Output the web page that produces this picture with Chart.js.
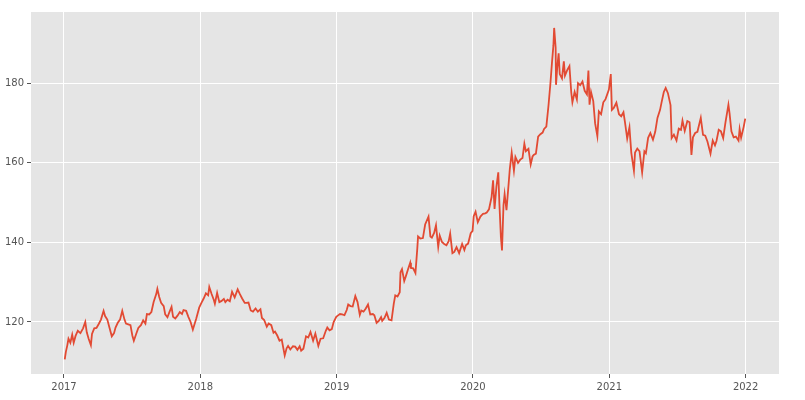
<!DOCTYPE html>
<html>
<head>
<meta charset="utf-8">
<script src="https://cdn.jsdelivr.net/npm/chart.js@4"></script>
<style>
  body { margin: 0; background: #fff; }
  #wrap { width: 805px; height: 400px; }
</style>
</head>
<body>
<div id="wrap"><canvas id="myChart" width="805" height="400"></canvas></div>
<script>
// trading dates (roughly weekly) and closing prices
var dates = [
  '2017-01-03','2017-01-06','2017-01-10','2017-01-13','2017-01-18','2017-01-23','2017-01-27','2017-02-01','2017-02-07','2017-02-14','2017-02-21','2017-02-27',
  '2017-03-03','2017-03-08','2017-03-14','2017-03-17','2017-03-23','2017-03-29','2017-04-04','2017-04-10','2017-04-17','2017-04-21','2017-04-27','2017-05-03',
  '2017-05-09','2017-05-15','2017-05-19','2017-05-25','2017-05-31','2017-06-06','2017-06-12','2017-06-16','2017-06-22','2017-06-28','2017-07-03','2017-07-07',
  '2017-07-13','2017-07-19','2017-07-26','2017-08-01','2017-08-07','2017-08-11','2017-08-17','2017-08-23','2017-08-29','2017-09-05','2017-09-08','2017-09-13',
  '2017-09-18','2017-09-25','2017-09-29','2017-10-05','2017-10-10','2017-10-16','2017-10-20','2017-10-26','2017-11-01','2017-11-07','2017-11-13','2017-11-17',
  '2017-11-24','2017-11-30','2017-12-06','2017-12-12','2017-12-15','2017-12-21','2017-12-29',
  '2018-01-04','2018-01-10','2018-01-16','2018-01-22','2018-01-25','2018-01-31','2018-02-06','2018-02-09','2018-02-15','2018-02-21','2018-02-27','2018-03-05',
  '2018-03-09','2018-03-15','2018-03-21','2018-03-27','2018-04-03','2018-04-11','2018-04-17','2018-04-23','2018-04-30','2018-05-04','2018-05-10','2018-05-16',
  '2018-05-22','2018-05-29','2018-06-04','2018-06-11','2018-06-15','2018-06-21','2018-06-28','2018-07-03','2018-07-10','2018-07-16','2018-07-20','2018-07-26',
  '2018-08-01','2018-08-07','2018-08-15','2018-08-20','2018-08-24','2018-08-30','2018-09-06','2018-09-12','2018-09-18','2018-09-24','2018-09-28','2018-10-04',
  '2018-10-11','2018-10-17','2018-10-23','2018-10-30','2018-11-05','2018-11-13','2018-11-19','2018-11-26','2018-12-03','2018-12-07','2018-12-13','2018-12-19',
  '2018-12-24','2018-12-31',
  '2019-01-04','2019-01-10','2019-01-16','2019-01-22','2019-01-28','2019-02-01','2019-02-07','2019-02-13','2019-02-20','2019-02-26','2019-03-04','2019-03-08',
  '2019-03-14','2019-03-20','2019-03-26','2019-04-01','2019-04-08','2019-04-12','2019-04-18','2019-04-24','2019-04-30','2019-05-03','2019-05-09','2019-05-15',
  '2019-05-21','2019-05-28','2019-06-03','2019-06-07','2019-06-13','2019-06-19','2019-06-21','2019-06-25','2019-07-01','2019-07-05','2019-07-11','2019-07-17',
  '2019-07-19','2019-07-25','2019-07-31','2019-08-05','2019-08-07','2019-08-13','2019-08-20','2019-08-26','2019-09-04','2019-09-09','2019-09-13','2019-09-19',
  '2019-09-24','2019-09-30','2019-10-04','2019-10-10','2019-10-16','2019-10-22','2019-10-28','2019-11-01','2019-11-07','2019-11-12','2019-11-18','2019-11-25',
  '2019-12-03','2019-12-09','2019-12-13','2019-12-19','2019-12-26','2019-12-31',
  '2020-01-03','2020-01-08','2020-01-14','2020-01-21','2020-01-28','2020-02-03','2020-02-07','2020-02-13','2020-02-20','2020-02-24','2020-02-28','2020-03-04',
  '2020-03-09','2020-03-12','2020-03-16','2020-03-19','2020-03-23','2020-03-26','2020-03-31','2020-04-06','2020-04-09','2020-04-14','2020-04-20','2020-04-24',
  '2020-05-01','2020-05-07','2020-05-13','2020-05-18','2020-05-22','2020-05-29','2020-06-04','2020-06-09','2020-06-12','2020-06-18','2020-06-24','2020-06-30',
  '2020-07-06','2020-07-10','2020-07-16','2020-07-22','2020-07-27','2020-07-31','2020-08-04','2020-08-06','2020-08-10','2020-08-11','2020-08-14','2020-08-18',
  '2020-08-21','2020-08-27','2020-09-01','2020-09-04','2020-09-10','2020-09-16','2020-09-21','2020-09-24','2020-09-30','2020-10-06','2020-10-09','2020-10-15',
  '2020-10-21','2020-10-27','2020-11-02','2020-11-06','2020-11-09','2020-11-13','2020-11-19','2020-11-24','2020-11-30','2020-12-04','2020-12-10','2020-12-16',
  '2020-12-22','2020-12-31',
  '2021-01-05','2021-01-08','2021-01-13','2021-01-20','2021-01-27','2021-02-02','2021-02-08','2021-02-12','2021-02-18','2021-02-24','2021-03-01','2021-03-08',
  '2021-03-11','2021-03-17','2021-03-23','2021-03-30','2021-04-05','2021-04-09','2021-04-15','2021-04-21','2021-04-28','2021-05-04','2021-05-10','2021-05-17',
  '2021-05-21','2021-05-27','2021-06-01','2021-06-07','2021-06-14','2021-06-17','2021-06-23','2021-06-30','2021-07-06','2021-07-12','2021-07-16','2021-07-22',
  '2021-07-29','2021-08-04','2021-08-09','2021-08-13','2021-08-19','2021-08-25','2021-09-03','2021-09-09','2021-09-15','2021-09-21','2021-09-29','2021-10-05',
  '2021-10-11','2021-10-15','2021-10-21','2021-10-27','2021-11-02','2021-11-08','2021-11-16','2021-11-19','2021-11-24','2021-11-30','2021-12-06','2021-12-13',
  '2021-12-16','2021-12-20','2021-12-27','2021-12-31'
];
var prices = [
  110.6,112.5,114.2,115.8,114.8,116.8,114.8,116.5,117.8,117.2,118.4,120.0,
  117.4,115.8,114.2,117.0,118.4,118.5,119.5,120.6,122.8,121.5,120.6,118.5,
  116.4,117.2,118.6,119.8,120.6,122.8,120.6,119.6,119.4,119.2,116.6,115.3,
  116.9,118.5,119.2,120.4,119.6,122.0,121.9,122.5,125.0,127.0,128.3,126.3,
  124.8,124.0,121.9,121.2,122.4,123.8,121.3,120.9,121.6,122.5,122.0,123.0,
  122.8,121.3,120.0,118.1,119.0,120.8,123.6,
  124.8,125.9,127.2,126.7,128.8,127.1,125.6,124.6,127.3,125.0,125.3,125.8,
  125.0,125.6,125.2,127.6,126.2,128.2,127.0,125.9,124.8,124.8,124.9,122.9,
  122.6,123.4,122.6,123.2,121.0,120.5,118.8,119.6,119.2,117.3,117.6,116.6,
  115.3,115.6,111.6,113.4,114.0,113.1,113.9,113.8,113.0,113.9,112.8,113.3,
  116.4,116.1,117.5,115.3,117.1,114.0,115.8,115.9,117.8,118.6,117.9,118.2,
  120.0,121.3,
  121.6,122.0,121.9,121.7,123.0,124.4,124.0,123.9,126.5,125.0,121.8,122.9,
  122.6,123.4,124.4,121.9,122.0,121.7,119.8,120.3,121.2,120.3,121.0,122.3,
  120.6,120.4,124.6,126.7,126.4,127.5,132.5,133.3,130.3,131.4,133.2,134.9,
  133.6,133.5,132.3,138.5,141.5,141.0,141.1,144.5,146.5,141.5,141.2,142.4,
  144.3,138.9,141.7,140.1,139.6,139.3,140.3,142.2,137.3,137.6,138.8,137.3,
  139.6,138.1,139.3,139.7,142.3,142.9,
  146.6,147.7,145.1,146.5,147.2,147.3,147.5,148.3,151.4,155.6,148.4,154.0,
  157.6,149.7,141.4,138.0,149.4,152.1,148.1,155.0,158.5,162.5,158.0,161.5,
  160.0,160.8,161.2,164.8,162.9,163.5,159.6,161.6,162.0,162.3,166.6,167.2,
  167.6,168.5,169.1,174.6,180.0,185.0,189.5,193.9,189.0,179.6,183.6,187.5,
  182.3,181.2,185.5,181.9,183.3,184.3,177.6,175.2,177.8,175.9,180.0,179.5,
  180.4,178.1,177.2,183.2,174.6,177.8,175.5,169.9,166.7,172.9,172.2,175.2,
  176.0,178.4,
  182.3,173.3,173.8,175.1,172.2,171.7,172.7,170.2,166.1,168.9,162.5,158.0,
  162.6,163.6,162.9,157.6,162.9,162.4,166.3,167.5,165.8,167.8,171.3,173.3,
  175.2,177.8,178.8,177.5,174.5,166.2,167.1,165.6,168.6,168.3,170.6,168.0,
  170.5,170.2,162.0,166.4,167.5,167.8,171.3,167.0,166.8,165.3,162.3,165.6,
  164.4,165.5,168.3,167.9,166.2,170.1,174.6,172.5,167.9,166.4,166.6,165.6,
  168.5,166.3,169.1,171.1
];
var yearTicks = [2017, 2018, 2019, 2020, 2021, 2022];
var priceTicks = [120, 140, 160, 180];

function toYear(s) {
  var d = Date.parse(s + 'T00:00:00Z');
  var y = parseInt(s.slice(0, 4), 10);
  var a = Date.UTC(y, 0, 1), b = Date.UTC(y + 1, 0, 1);
  return y + (d - a) / (b - a);
}

var points = [];
for (var i = 0; i < dates.length; i++) {
  points.push({ x: toYear(dates[i]), y: prices[i] });
}

var plotBg = {
  id: 'plotBg',
  beforeDraw: function (chart) {
    var a = chart.chartArea, ctx = chart.ctx;
    ctx.save();
    ctx.fillStyle = '#e5e5e5';
    ctx.fillRect(a.left, a.top, a.right - a.left, a.bottom - a.top);
    ctx.restore();
  }
};

var ctx = document.getElementById('myChart').getContext('2d');
var myChart = new Chart(ctx, {
  type: 'line',
  data: {
    datasets: [{
      data: points,
      borderColor: '#e24a33',
      borderWidth: 1.8,
      pointRadius: 0,
      tension: 0,
      fill: false
    }]
  },
  options: {
    responsive: false,
    animation: false,
    layout: { padding: { top: 12, right: 26, left: 0, bottom: 0 } },
    plugins: { legend: { display: false }, tooltip: { enabled: false } },
    scales: {
      x: {
        type: 'linear',
        min: 2016.758,
        max: 2022.245,
        afterBuildTicks: function (s) { s.ticks = yearTicks.map(function (v) { return { value: v }; }); },
        afterFit: function (s) { s.height = 26; },
        border: { display: false },
        grid: { color: '#ffffff', lineWidth: 1, tickColor: '#555555', tickLength: 4 },
        ticks: {
          color: '#555555', padding: 3, maxRotation: 0,
          font: { family: 'DejaVu Sans', size: 10 },
          callback: function (v) { return String(v); }
        }
      },
      y: {
        min: 106.93,
        max: 197.9,
        afterBuildTicks: function (s) { s.ticks = priceTicks.map(function (v) { return { value: v }; }); },
        afterFit: function (s) { s.width = 31; },
        border: { display: false },
        grid: { color: '#ffffff', lineWidth: 1, tickColor: '#555555', tickLength: 4 },
        ticks: {
          color: '#555555', padding: 3,
          font: { family: 'DejaVu Sans', size: 10 },
          callback: function (v) { return String(v); }
        }
      }
    }
  },
  plugins: [plotBg]
});
</script>
</body>
</html>
